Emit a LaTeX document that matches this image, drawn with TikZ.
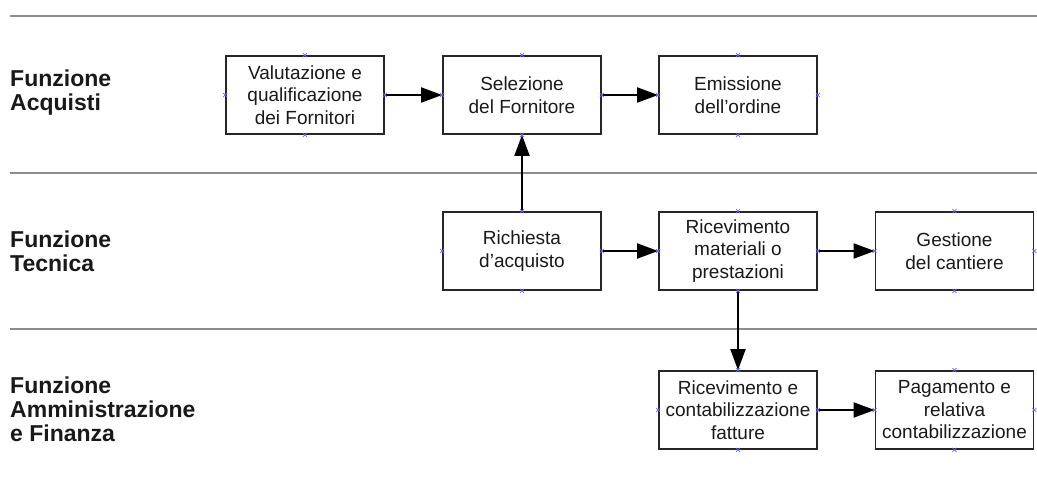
\documentclass[tikz,border=0pt]{standalone}
\usepackage{fontspec}
\setmainfont{Liberation Sans}
\usetikzlibrary{arrows.meta}

\tikzset{
    box/.style={draw=black!85, line width=1.8pt, minimum width=158pt, minimum height=78pt,
        inner sep=0pt, align=center, text=black!90, font=\fontsize{19}{22.5}\selectfont},
    lane/.style={draw=black!45, line width=1.8pt},
    flow/.style={line width=2pt, -{Triangle[length=21pt,width=15pt]}},
    lanelabel/.style={anchor=west, align=left, inner sep=0pt, text=black!90,
        font=\fontsize{23}{24}\selectfont\bfseries},
    conn/.style={draw=blue!60!white, line width=0.8pt}
}

\begin{document}
\begin{tikzpicture}[x=1pt, y=1pt]
    \useasboundingbox (0,0) rectangle (1037,-480);
    % lanes
    \draw[lane] (10,-16) -- (1037,-16);
    \draw[lane] (10,-173) -- (1037,-173);
    \draw[lane] (10,-329) -- (1037,-329);
    \node[lanelabel] (acq) at (10,-93) {Funzione\\Acquisti};
    \node[lanelabel] (tec) at (10,-251) {Funzione\\Tecnica};
    \node[lanelabel] (amm) at (10,-409) {Funzione\\Amministrazione\\e Finanza};
    % boxes
    \node[box] (val) at (305,-95) {Valutazione e\\qualificazione\\dei Fornitori};
    \node[box] (sel) at (522,-95) {Selezione\\del Fornitore};
    \node[box] (emi) at (738,-95) {Emissione\\dell’ordine};
    \node[box] (ric) at (522,-251) {Richiesta\\d’acquisto};
    \node[box] (rma) at (738,-251) {Ricevimento\\materiali o\\prestazioni};
    \node[box] (ges) at (954.5,-251) {Gestione\\del cantiere};
    \node[box] (rfa) at (738,-410) {Ricevimento e\\contabilizzazione\\fatture};
    \node[box] (pag) at (954.5,-410) {Pagamento e\\relativa\\contabilizzazione};
    % arrows
    \draw[flow] (val) -- (sel);
    \draw[flow] (sel) -- (emi);
    \draw[flow] (ric) -- (sel);
    \draw[flow] (ric) -- (rma);
    \draw[flow] (rma) -- (ges);
    \draw[flow] (rma) -- (rfa);
    \draw[flow] (rfa) -- (pag);
    % connection points
    \foreach \n in {val,sel,emi,ric,rma,ges,rfa,pag}{
        \foreach \a in {north,south,east,west}{
            \draw[conn] ([shift={(-2,-2)}]\n.\a) -- ++(4,4) ([shift={(-2,2)}]\n.\a) -- ++(4,-4);
        }
    }
\end{tikzpicture}
\end{document}
